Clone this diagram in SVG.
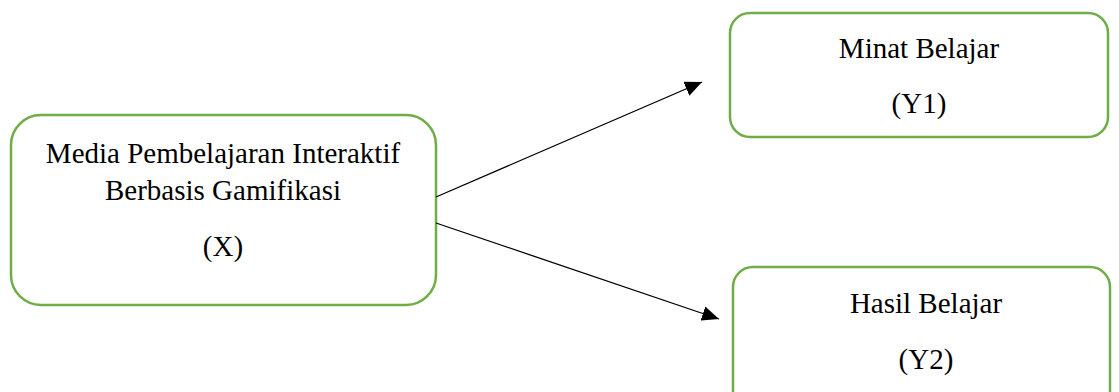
<svg xmlns="http://www.w3.org/2000/svg" width="1119" height="392" viewBox="0 0 1119 392">
  <style>
    .box { fill: #ffffff; stroke: #70ad47; stroke-width: 2.5; }
    .lbl { font-family: "Liberation Serif", "Times New Roman", serif; font-size: 29px; fill: #000000; text-anchor: middle; }
    .edge { stroke: #000000; stroke-width: 1.3; fill: none; }
  </style>
  <defs>
    <marker id="arrow" viewBox="0 0 10 10" refX="10" refY="5" markerWidth="17" markerHeight="15" markerUnits="userSpaceOnUse" orient="auto" preserveAspectRatio="none">
      <path d="M0,0 L10,5 L0,10 z" fill="#000000"/>
    </marker>
  </defs>
  <rect width="1119" height="392" fill="#ffffff"/>

  <g id="node-x">
    <rect class="box" x="11" y="115" width="425" height="190" rx="30" ry="30"/>
    <text class="lbl" x="223" y="163">Media Pembelajaran Interaktif</text>
    <text class="lbl" x="223" y="200">Berbasis Gamifikasi</text>
    <text class="lbl" x="223" y="256">(X)</text>
  </g>

  <g id="node-y1">
    <rect class="box" x="730" y="13" width="378" height="124" rx="20" ry="20"/>
    <text class="lbl" x="919" y="58">Minat Belajar</text>
    <text class="lbl" x="919" y="113">(Y1)</text>
  </g>

  <g id="node-y2">
    <rect class="box" x="733" y="267" width="377" height="150" rx="20" ry="20"/>
    <text class="lbl" x="926" y="313">Hasil Belajar</text>
    <text class="lbl" x="926" y="369">(Y2)</text>
  </g>

  <g id="connectors">
    <line class="edge" x1="436" y1="197" x2="702" y2="82" marker-end="url(#arrow)"/>
    <line class="edge" x1="436" y1="223" x2="719" y2="319" marker-end="url(#arrow)"/>
  </g>
</svg>
